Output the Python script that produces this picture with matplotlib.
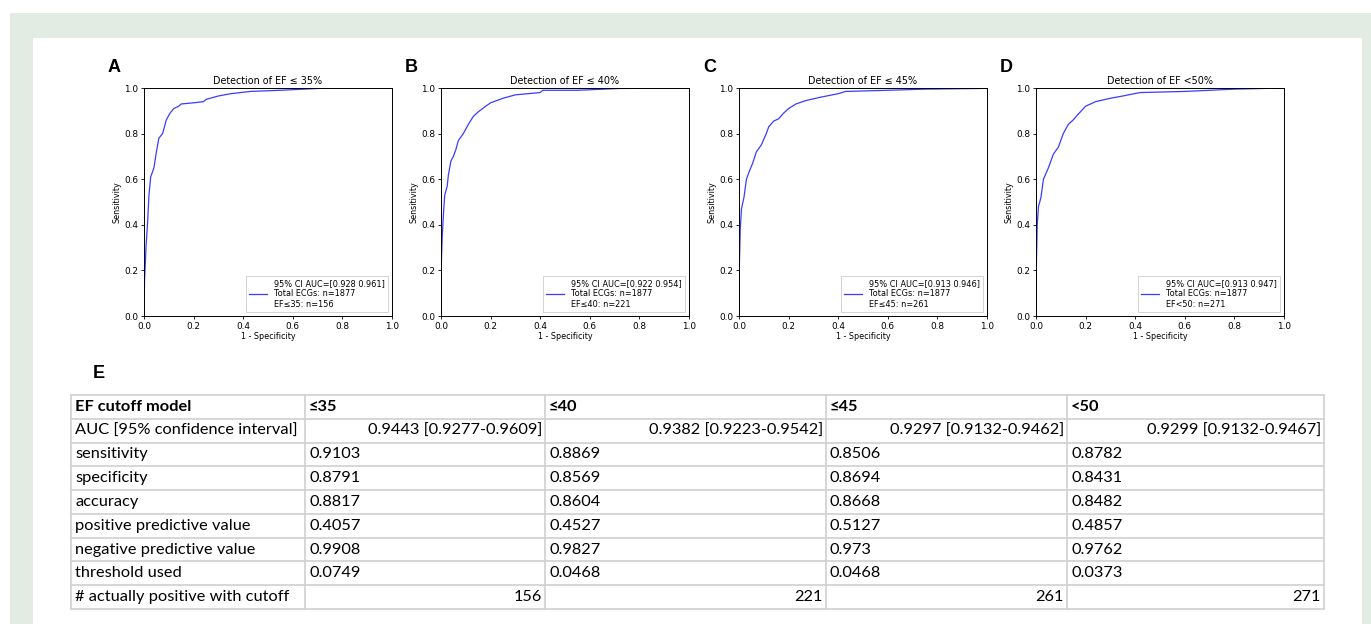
import matplotlib
matplotlib.use("Agg")
import matplotlib.pyplot as plt
from matplotlib.patches import Rectangle

# ROC curve points (fpr, tpr)
fpr_35 = [0, 0.002, 0.008, 0.015, 0.02, 0.027, 0.04, 0.05, 0.06, 0.075, 0.09, 0.105,
          0.12, 0.14, 0.15, 0.2, 0.24, 0.25, 0.3, 0.35, 0.43, 0.55, 0.74, 1.0]
tpr_35 = [0, 0.15, 0.30, 0.42, 0.53, 0.61, 0.65, 0.72, 0.78, 0.80, 0.86, 0.89,
          0.91, 0.92, 0.93, 0.935, 0.94, 0.95, 0.965, 0.975, 0.985, 0.99, 1.0, 1.0]

fpr_40 = [0, 0.001, 0.005, 0.01, 0.015, 0.025, 0.03, 0.04, 0.05, 0.06, 0.07, 0.09,
          0.11, 0.13, 0.15, 0.18, 0.2, 0.25, 0.3, 0.4, 0.41, 0.55, 0.72, 1.0]
tpr_40 = [0, 0.22, 0.35, 0.45, 0.53, 0.57, 0.62, 0.68, 0.70, 0.73, 0.77, 0.80,
          0.84, 0.875, 0.895, 0.92, 0.935, 0.955, 0.97, 0.98, 0.99, 0.99, 0.998, 1.0]

fpr_45 = [0, 0.001, 0.005, 0.01, 0.02, 0.03, 0.04, 0.055, 0.07, 0.09, 0.11, 0.12,
          0.14, 0.16, 0.18, 0.2, 0.23, 0.27, 0.33, 0.4, 0.43, 0.6, 0.75, 0.98, 1.0]
tpr_45 = [0, 0.2, 0.38, 0.47, 0.52, 0.6, 0.63, 0.67, 0.72, 0.75, 0.80, 0.83,
          0.855, 0.865, 0.89, 0.91, 0.93, 0.945, 0.96, 0.975, 0.985, 0.99, 0.995, 0.998, 1.0]

fpr_50 = [0, 0.001, 0.005, 0.01, 0.02, 0.03, 0.05, 0.07, 0.09, 0.11, 0.13, 0.15,
          0.17, 0.2, 0.24, 0.3, 0.35, 0.42, 0.6, 0.8, 1.0]
tpr_50 = [0, 0.2, 0.4, 0.48, 0.52, 0.6, 0.65, 0.71, 0.74, 0.80, 0.84, 0.86,
          0.885, 0.92, 0.94, 0.955, 0.965, 0.98, 0.985, 0.995, 1.0]

panel_letters = ["A", "B", "C", "D"]
panel_titles = ["Detection of EF \u2264 35%", "Detection of EF \u2264 40%",
                "Detection of EF \u2264 45%", "Detection of EF <50%"]
legend_labels = ["95% CI AUC=[0.928 0.961]\nTotal ECGs: n=1877\nEF\u226435: n=156",
                 "95% CI AUC=[0.922 0.954]\nTotal ECGs: n=1877\nEF\u226440: n=221",
                 "95% CI AUC=[0.913 0.946]\nTotal ECGs: n=1877\nEF\u226445: n=261",
                 "95% CI AUC=[0.913 0.947]\nTotal ECGs: n=1877\nEF<50: n=271"]
curves = [(fpr_35, tpr_35), (fpr_40, tpr_40), (fpr_45, tpr_45), (fpr_50, tpr_50)]

# table E
col_heads = ["EF cutoff model", "\u226435", "\u226440", "\u226445", "<50"]
row_names = ["AUC [95% confidence interval]", "sensitivity", "specificity", "accuracy",
             "positive predictive value", "negative predictive value", "threshold used",
             "# actually positive with cutoff"]
col_35 = ["0.9443 [0.9277-0.9609]", "0.9103", "0.8791", "0.8817", "0.4057", "0.9908", "0.0749", "156"]
col_40 = ["0.9382 [0.9223-0.9542]", "0.8869", "0.8569", "0.8604", "0.4527", "0.9827", "0.0468", "221"]
col_45 = ["0.9297 [0.9132-0.9462]", "0.8506", "0.8694", "0.8668", "0.5127", "0.973", "0.0468", "261"]
col_50 = ["0.9299 [0.9132-0.9467]", "0.8782", "0.8431", "0.8482", "0.4857", "0.9762", "0.0373", "271"]
right_rows = [0, 7]  # rows that are right aligned

W, H = 1371, 624
fig = plt.figure(figsize=(W / 100, H / 100), dpi=100)

# background frame
bg = fig.add_axes([0, 0, 1, 1])
bg.set_xlim(0, W)
bg.set_ylim(H, 0)
bg.axis("off")
bg.add_patch(Rectangle((10, 13), W - 10, H - 13, color="#e3ece3", lw=0))
bg.add_patch(Rectangle((33, 38), 1362 - 33, H - 38, color="white", lw=0))

ax_left = [144, 441, 739, 1036]
ax_w, ax_top, ax_bot = 248, 88, 316

for i in range(4):
    ax = fig.add_axes([ax_left[i] / W, (H - ax_bot) / H, ax_w / W, (ax_bot - ax_top) / H])
    fx, ty = curves[i]
    ax.plot(fx, ty, color="#3b3bff", lw=0.9, label=legend_labels[i])
    ax.set_xlim(0, 1)
    ax.set_ylim(0, 1)
    ax.set_title(panel_titles[i], fontsize=6.9, pad=3)
    ax.set_xlabel("1 - Specificity", fontsize=5.8, labelpad=1)
    ax.set_ylabel("Sensitivity", fontsize=5.8, labelpad=2)
    ax.tick_params(labelsize=6.4, length=2.5, width=0.6, pad=1.5)
    for s in ax.spines.values():
        s.set_linewidth(0.7)
    leg = ax.legend(loc="lower right", fontsize=5.9, handlelength=2.2,
                    borderpad=0.4, fancybox=False, framealpha=1)
    leg.get_frame().set_edgecolor("#cccccc")
    leg.get_frame().set_linewidth(0.6)
    bg.text(ax_left[i] - 36, 67, panel_letters[i], fontsize=13, fontweight="bold",
            family="Liberation Sans", ha="left", va="center")

bg.text(93, 374, "E", fontsize=13, fontweight="bold", family="Liberation Sans",
        ha="left", va="center")

# table
col_x = [71, 305, 545, 826, 1067, 1324]
t_top, t_bot = 395, 609
n_rows = len(row_names) + 1
rh = (t_bot - t_top) / n_rows
grid_c = "#d0d0d0"
for k in range(n_rows + 1):
    y = t_top + k * rh
    bg.plot([col_x[0], col_x[-1]], [y, y], color=grid_c, lw=1.2)
for x in col_x:
    bg.plot([x, x], [t_top, t_bot], color=grid_c, lw=1.2)

tfont = "Lato"
fs = 11.8
for j, h in enumerate(col_heads):
    bg.text(col_x[j] + 4, t_top + rh / 2, h, fontsize=fs, fontweight="bold",
            family=tfont, ha="left", va="center")

cols = [row_names, col_35, col_40, col_45, col_50]
for j, col in enumerate(cols):
    for r, val in enumerate(col):
        yc = t_top + (r + 1.5) * rh
        if j > 0 and r in right_rows:
            bg.text(col_x[j + 1] - 3, yc, val, fontsize=fs, family=tfont,
                    ha="right", va="center")
        else:
            bg.text(col_x[j] + 4, yc, val, fontsize=fs, family=tfont,
                    ha="left", va="center")

fig.savefig("out.png", dpi=100)
